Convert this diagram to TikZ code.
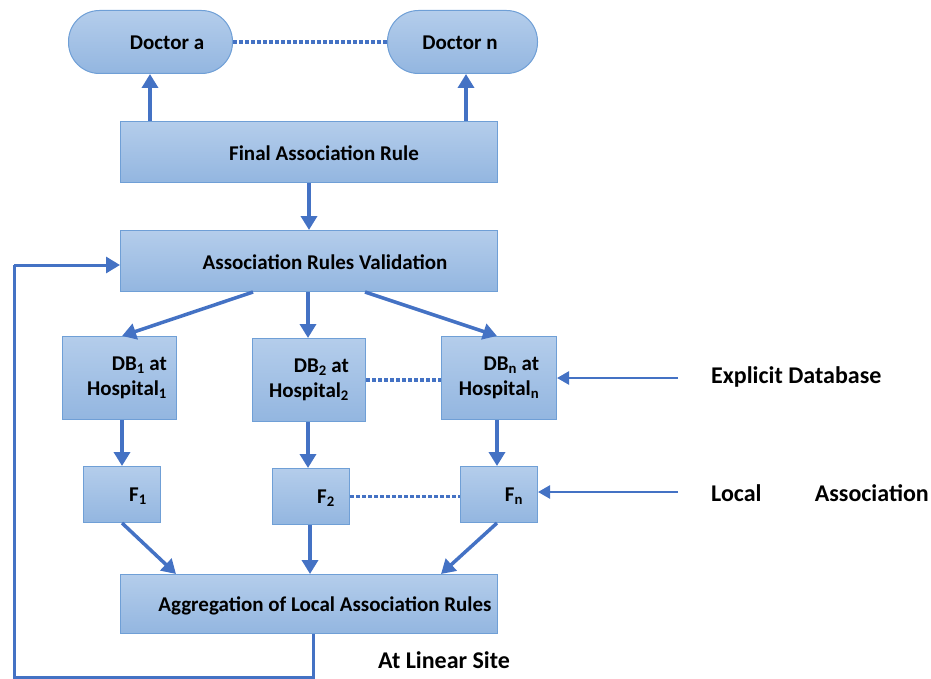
\documentclass[tikz,border=0pt]{standalone}
\usepackage{fontspec}
\setmainfont{Carlito}
\usetikzlibrary{arrows.meta}
\definecolor{boxtop}{HTML}{B4CDEB}
\definecolor{boxbot}{HTML}{93B6E0}
\definecolor{boxline}{HTML}{6F9FD6}
\definecolor{arr}{HTML}{4472C4}
\tikzset{
  box/.style={draw=boxline, line width=1pt, top color=boxtop, bottom color=boxbot, inner sep=0pt, anchor=north west},
  pill/.style={box, rounded corners=31pt},
  lbl/.style={font=\bfseries\fontsize{21}{25}\selectfont, inner sep=0pt, align=center},
  side/.style={font=\bfseries\fontsize{24}{28}\selectfont, inner sep=0pt, anchor=west},
  flow/.style={arr, line width=3.5pt, -{Triangle[width=16pt,length=14pt]}},
  thinflow/.style={arr, line width=2.5pt, -{Triangle[width=13pt,length=12pt]}},
  dots/.style={arr, line width=3.5pt, dash pattern=on 3.5pt off 2.5pt},
  back/.style={arr, line width=3pt}
}
\begin{document}
\begin{tikzpicture}[x=1pt,y=-1pt]
\useasboundingbox (0,0) rectangle (931,679);
% boxes
\node[pill, minimum width=164pt, minimum height=63pt] (da) at (68,10) {};
\node[pill, minimum width=150pt, minimum height=63pt] (dn) at (387,10) {};
\node[box, minimum width=377pt, minimum height=61pt] (far) at (120,121) {};
\node[box, minimum width=377pt, minimum height=61pt] (arv) at (120,230) {};
\node[box, minimum width=114pt, minimum height=83pt] (db1) at (62,336) {};
\node[box, minimum width=113pt, minimum height=83pt] (db2) at (252,338) {};
\node[box, minimum width=115pt, minimum height=83pt] (dbn) at (441,336) {};
\node[box, minimum width=77pt, minimum height=56pt] (f1) at (83,466) {};
\node[box, minimum width=77pt, minimum height=56pt] (f2) at (272,468) {};
\node[box, minimum width=77pt, minimum height=56pt] (fn) at (460,466) {};
\node[box, minimum width=377pt, minimum height=59pt] (agg) at (120,574) {};
% labels
\node[lbl] (tda) at (167,43) {Doctor a};
\node[lbl] (tdn) at (460,43) {Doctor n};
\node[lbl] (tfar) at (324,153) {Final Association Rule};
\node[lbl] (tarv) at (325,262) {Association Rules Validation};
\node[lbl, align=right] (tdb1) at (127,378) {DB\textsubscript{1} at\\Hospital\textsubscript{1}};
\node[lbl, align=right] (tdb2) at (309,380) {DB\textsubscript{2} at\\Hospital\textsubscript{2}};
\node[lbl, align=right] (tdbn) at (499,378) {DB\textsubscript{n} at\\Hospital\textsubscript{n}};
\node[lbl] (tf1) at (138,496) {F\textsubscript{1}};
\node[lbl] (tf2) at (326,498) {F\textsubscript{2}};
\node[lbl] (tfn) at (514,496) {F\textsubscript{n}};
\node[lbl] (tagg) at (325,606) {Aggregation of Local Association Rules};
\node[side] (expl) at (711,377) {Explicit Database};
\node[side] (loc) at (711,493) {Local};
\node[side, anchor=east] (ass) at (929,493) {Association};
\node[side] (site) at (378,660) {At Linear Site};
% connectors
\draw[dots] (da.east) -- (dn.west);
\draw[flow] (far.north -| 150,0) -- (da.south -| 150,0);
\draw[flow] (far.north -| 466,0) -- (dn.south -| 466,0);
\draw[flow] (far.south) -- (arv.north);
\draw[flow] (arv.south -| 253,0) -- (db1.north -| 122,0);
\draw[flow] (arv.south -| 308,0) -- (db2.north -| 308,0);
\draw[flow] (arv.south -| 365,0) -- (dbn.north -| 497,0);
\draw[dots] (db2.east) -- (dbn.west |- db2.east);
\draw[flow] (db1.south -| 122,0) -- (f1.north -| 122,0);
\draw[flow] (db2.south -| 308,0) -- (f2.north -| 308,0);
\draw[flow] (dbn.south -| 497,0) -- (fn.north -| 497,0);
\draw[dots] (f2.east) -- (fn.west |- f2.east);
\coordinate (e1) at (678,378);
\coordinate (e2) at (678,492);
\draw[thinflow] (e1) -- (dbn.east |- e1);
\draw[thinflow] (e2) -- (fn.east |- e2);
\draw[flow] (f1.south -| 122,0) -- (agg.north -| 176,0);
\draw[flow] (f2.south -| 310,0) -- (agg.north -| 310,0);
\draw[flow] (fn.south -| 497,0) -- (agg.north -| 441,0);
\coordinate (b1) at (313,677);
\coordinate (b2) at (14,677);
\coordinate (b3) at (14,265);
\draw[back] (agg.south -| b1) -- (b1) -- (b2) -- (b3);
\draw[flow, line width=3pt] (b3) -- (arv.west |- b3);
\end{tikzpicture}
\end{document}
